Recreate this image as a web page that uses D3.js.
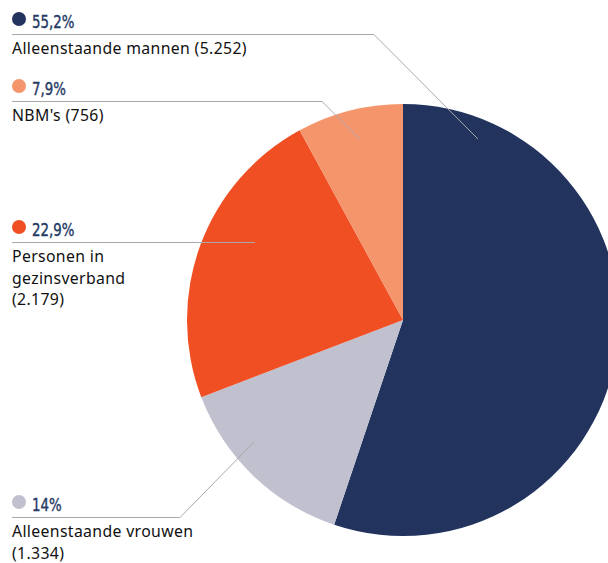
<!DOCTYPE html>
<html>
<head>
<meta charset="utf-8">
<script src="https://cdn.jsdelivr.net/npm/d3@7"></script>
<style>
  html, body { margin: 0; padding: 0; background: #fff; }
  svg { display: block; }
  .pct { font-family: "Liberation Sans Narrow", "DejaVu Sans Condensed", "Roboto", sans-serif; fill: #253a66; stroke: #253a66; stroke-width: 0.4; }
  .lbl { font-family: "Noto Sans", "Open Sans", sans-serif; fill: #111; letter-spacing: 0.35px; }
</style>
</head>
<body>
<svg id="chart" width="608" height="563"></svg>
<script>
// Groups and counts, in clockwise order from 12 o'clock
const categories = ["Alleenstaande mannen", "Alleenstaande vrouwen", "Personen in gezinsverband", "NBM's"];
const counts = [5252, 1334, 2179, 756];
const percentLabels = ["55,2%", "14%", "22,9%", "7,9%"];
const countLabels = ["5.252", "1.334", "2.179", "756"];
const colors = ["#22345e", "#c1c0cf", "#f04f24", "#f5956c"];

const svg = d3.select("#chart");
const cx = 403, cy = 320, radius = 216;

const pie = d3.pie().sort(null).value(d => d.value);
const arc = d3.arc().innerRadius(0).outerRadius(radius);

const data = categories.map((c, i) => ({ name: c, value: counts[i], color: colors[i], pct: percentLabels[i], count: countLabels[i] }));
const arcs = pie(data);

const g = svg.append("g").attr("transform", `translate(${cx},${cy})`);
g.selectAll("path")
  .data(arcs)
  .join("path")
  .attr("d", arc)
  .attr("fill", d => d.data.color);

// Callout layout: label block position, text lines, leader line elbow and
// the leader's end point inside the slice (angle in degrees, fraction of radius)
const callouts = [
  { idx: 0, top: 19, lines: ["Alleenstaande mannen (5.252)"], lineY: 34.5, elbowX: 374, ang: 22.5, r: 0.907 },
  { idx: 3, top: 86, lines: ["NBM's (756)"], lineY: 101.5, elbowX: 322, ang: -13.4, r: 0.861 },
  { idx: 2, top: 227, lines: ["Personen in", "gezinsverband", "(2.179)"], lineY: 242.5, elbowX: null, ang: -62.2, r: 0.775 },
  { idx: 1, top: 502, lines: ["Alleenstaande vrouwen", "(1.334)"], lineY: 517.5, elbowX: 180, ang: 230.7, r: 0.89 }
];

const labels = svg.append("g");
callouts.forEach(c => {
  const a = arcs[c.idx];
  const t = c.ang * Math.PI / 180;
  const px = cx + Math.sin(t) * radius * c.r;
  const py = cy - Math.cos(t) * radius * c.r;
  const pts = c.elbowX === null
    ? [[12, c.lineY], [px, c.lineY]]
    : [[12, c.lineY], [c.elbowX, c.lineY], [px, py]];
  labels.append("path")
    .attr("d", d3.line()(pts))
    .attr("fill", "none")
    .attr("stroke", "#a9a9a9")
    .attr("stroke-width", 1);

  labels.append("circle")
    .attr("cx", 19).attr("cy", c.top)
    .attr("r", 7)
    .attr("fill", a.data.color);

  // condensed percentage figure
  labels.append("text")
    .attr("class", "pct")
    .attr("transform", `translate(32,${c.top + 8.5}) scale(0.8,1)`)
    .attr("font-size", 18.5)
    .text(a.data.pct);

  // wrapped category label, one tspan per line
  const txt = labels.append("text")
    .attr("class", "lbl")
    .attr("x", 12)
    .attr("y", c.top + 35)
    .attr("font-size", 15.8);
  c.lines.forEach((s, i) => {
    txt.append("tspan")
      .attr("x", 12)
      .attr("dy", i === 0 ? 0 : 21.6)
      .text(s);
  });
});
</script>
</body>
</html>
